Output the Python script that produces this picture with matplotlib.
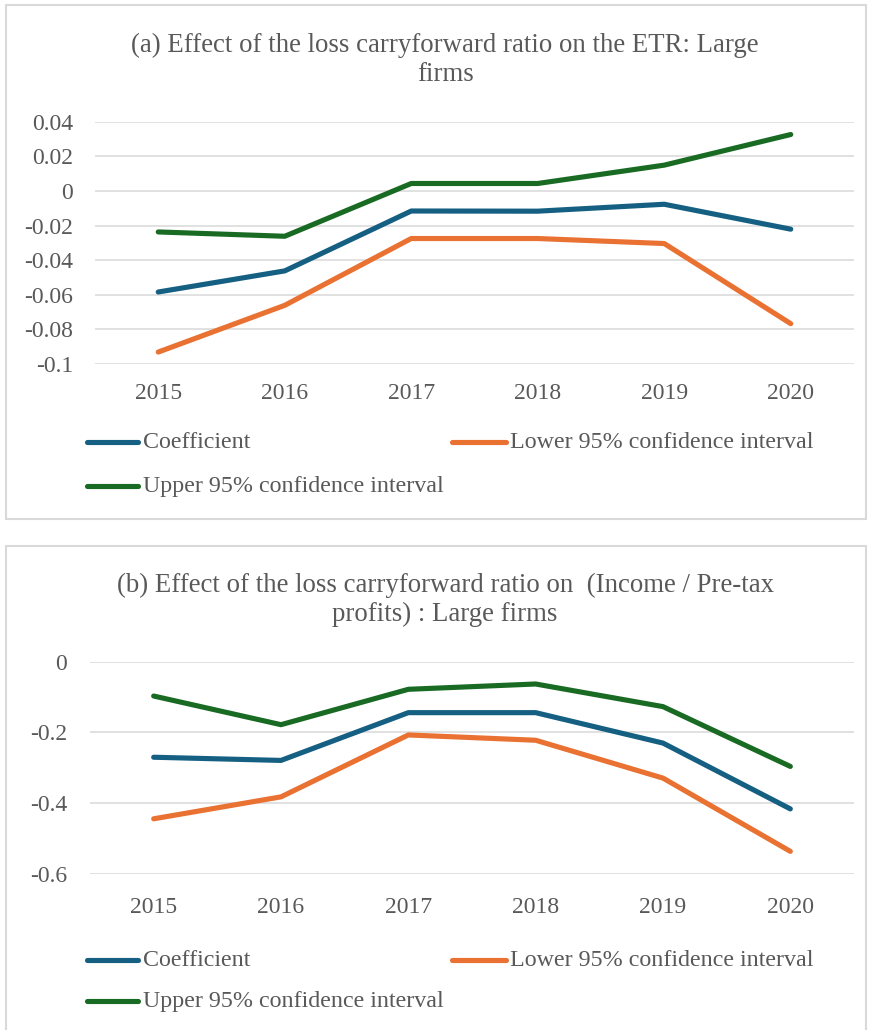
import matplotlib
matplotlib.use("Agg")
import matplotlib.pyplot as plt
from matplotlib.lines import Line2D
from matplotlib.patches import Rectangle
from matplotlib.ticker import FuncFormatter

years = ["2015", "2016", "2017", "2018", "2019", "2020"]

# Panel (a): ETR
coef_a = [-0.0584, -0.0462, -0.0116, -0.0117, -0.0077, -0.0221]
lower_a = [-0.0931, -0.0661, -0.0275, -0.0275, -0.0304, -0.0767]
upper_a = [-0.0237, -0.0262, 0.0043, 0.0043, 0.0149, 0.0326]

# Panel (b): Income / Pre-tax profits
coef_b = [-0.270, -0.279, -0.144, -0.144, -0.230, -0.416]
lower_b = [-0.444, -0.382, -0.207, -0.222, -0.329, -0.536]
upper_b = [-0.097, -0.178, -0.078, -0.063, -0.127, -0.296]

series_names = ["Coefficient", "Lower 95% confidence interval", "Upper 95% confidence interval"]
colors = ["#156082", "#E97132", "#196B24"]

title_a = "(a) Effect of the loss carryforward ratio on the ETR: Large\nfirms"
title_b = "(b) Effect of the loss carryforward ratio on  (Income / Pre-tax\nprofits) : Large firms"

plt.rcParams["font.family"] = ["Liberation Serif", "DejaVu Serif"]
TXT = "#595959"
GRID = "#d9d9d9"

W, H = 872, 1030
fig = plt.figure(figsize=(W / 100, H / 100), dpi=100)


def fx(px):
    return px / W


def fy(py):
    return 1 - py / H


def fmt(v, pos):
    v = round(v, 6)
    if abs(v) < 1e-9:
        return "0"
    return "{:g}".format(v).replace("\u2212", "-")


def panel(box, ax_rect, data, ylim, yticks, title, title_y, leg_rows, ypad, xpad):
    x0, y0, x1, y1 = box
    fig.add_artist(Rectangle((fx(x0), fy(y1)), fx(x1) - fx(x0), fy(y0) - fy(y1),
                             transform=fig.transFigure, fill=False,
                             edgecolor=GRID, linewidth=1.5, zorder=0))
    l, t, r, b = ax_rect
    ax = fig.add_axes([fx(l), fy(b), fx(r) - fx(l), fy(t) - fy(b)])
    xs = range(len(years))
    for vals, c, n in zip(data, colors, series_names):
        ax.plot(xs, vals, color=c, lw=3.7, solid_capstyle="round",
                solid_joinstyle="round", label=n, zorder=3)
    ax.set_xlim(-0.5, len(years) - 0.5)
    ax.set_ylim(*ylim)
    ax.set_yticks(yticks)
    ax.yaxis.set_major_formatter(FuncFormatter(fmt))
    ax.set_xticks(list(xs))
    ax.set_xticklabels(years)
    ax.grid(axis="y", color=GRID, lw=1.1, zorder=0)
    ax.grid(axis="x", visible=False)
    for s in ax.spines.values():
        s.set_visible(False)
    ax.tick_params(axis="both", length=0, labelsize=17, colors=TXT)
    ax.tick_params(axis="y", pad=ypad)
    ax.tick_params(axis="x", pad=xpad)
    ax.set_facecolor("none")
    fig.text(fx(445), fy(title_y), title, ha="center", va="center",
             fontsize=19.3, color=TXT, linespacing=1.22)
    # legend (manual, Excel style)
    r1, r2 = leg_rows
    entries = [(87, 138, 143, r1, 0), (452, 506, 510, r1, 1), (87, 138, 143, r2, 2)]
    for hx0, hx1, tx, ry, i in entries:
        fig.add_artist(Line2D([fx(hx0), fx(hx1)], [fy(ry), fy(ry)],
                              transform=fig.transFigure, color=colors[i],
                              lw=3.7, solid_capstyle="round"))
        fig.text(fx(tx), fy(ry), series_names[i], ha="left", va="center",
                 fontsize=17.3, color=TXT)
    return ax


panel((6, 5, 866, 519), (95, 121.7, 854, 364),
      [coef_a, lower_a, upper_a], (-0.1, 0.04),
      [-0.1, -0.08, -0.06, -0.04, -0.02, 0, 0.02, 0.04],
      title_a, 60, (442, 486), 15.8, 13.5)

panel((6, 546, 866, 1040), (90, 661.7, 854, 874),
      [coef_b, lower_b, upper_b], (-0.6, 0.0),
      [-0.6, -0.4, -0.2, 0],
      title_b, 600, (960, 1001), 16.6, 16.5)

fig.savefig("out.png", dpi=100, facecolor="white")
